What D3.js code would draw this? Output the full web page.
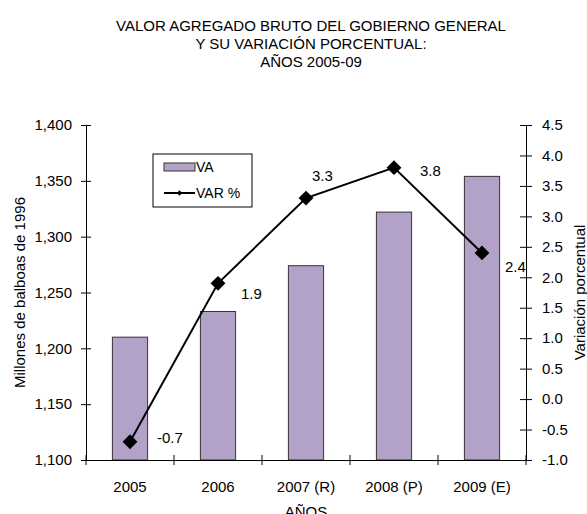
<!DOCTYPE html>
<html><head><meta charset="utf-8">
<script src="https://cdn.jsdelivr.net/npm/d3@7"></script>
<style>
body{margin:0;background:#fff;}
text{font-family:"Liberation Sans",Arial,sans-serif;fill:#000;}
</style></head>
<body><svg id="c" width="587" height="514"></svg>
<script>
const categories = ["2005","2006","2007 (R)","2008 (P)","2009 (E)"];
const vaValues = [1210, 1233, 1274, 1322, 1354];
const varValues = [-0.7, 1.9, 3.3, 3.8, 2.4];
const leftTicks = [1100,1150,1200,1250,1300,1350,1400];
const rightTicks = [-1.0,-0.5,0.0,0.5,1.0,1.5,2.0,2.5,3.0,3.5,4.0,4.5];
const titleLines = ["VALOR AGREGADO BRUTO DEL GOBIERNO GENERAL","Y SU VARIACIÓN PORCENTUAL:","AÑOS 2005-09"];
// label placement offsets (layout only)
const labelOffsets = [[27,-4],[23,11],[6,-22],[26,3],[23,14]];

const FONT = "Liberation Sans, Arial, sans-serif";
const fmt1 = v => d3.format(".1f")(v).replace("\u2212","-");

const svg = d3.select("#c");
const m = {l:86, r:526, t:125, b:460};
const x = d3.scaleBand().domain(categories).range([m.l,m.r]).paddingInner(0).paddingOuter(0);
const yL = d3.scaleLinear().domain([1100,1400]).range([m.b,m.t]);
const yR = d3.scaleLinear().domain([-1,4.5]).range([m.b,m.t]);

// title
svg.append("g").selectAll("text").data(titleLines).join("text")
  .attr("x",311).attr("y",(d,i)=>31+i*18).attr("text-anchor","middle")
  .attr("font-size",15).text(d=>d);

// bars
const bw = x.bandwidth()*0.4;
svg.append("g").selectAll("rect").data(vaValues).join("rect")
  .attr("x",(d,i)=>x(categories[i])+x.bandwidth()/2-bw/2)
  .attr("width",bw)
  .attr("y",d=>yL(d)).attr("height",d=>m.b-yL(d))
  .attr("fill","#b3a2c8").attr("stroke","#333").attr("stroke-width",1);

// axes
const axL = d3.axisLeft(yL).tickValues(leftTicks).tickFormat(d3.format(",")).tickSizeInner(5).tickSizeOuter(0);
const gL = svg.append("g").attr("transform",`translate(${m.l},0)`).call(axL);
gL.selectAll(".tick line").attr("x1",5).attr("x2",-5);
gL.selectAll(".tick text").attr("x",-14).attr("font-size",15).attr("font-family",FONT);
gL.select(".domain").attr("stroke","#000");

const axR = d3.axisRight(yR).tickValues(rightTicks).tickFormat(fmt1).tickSizeInner(6).tickSizeOuter(0);
const gR = svg.append("g").attr("transform",`translate(${m.r},0)`).call(axR);
gR.selectAll(".tick line").attr("x1",-6).attr("x2",6);
gR.selectAll(".tick text").attr("x",16).attr("font-size",15).attr("font-family",FONT);
gR.select(".domain").attr("stroke","#000");

const axB = d3.axisBottom(x).tickSize(0);
const gB = svg.append("g").attr("transform",`translate(0,${m.b})`).call(axB);
gB.select(".domain").attr("stroke","#000");
gB.selectAll(".tick text").attr("y",32).attr("dy",0).attr("font-size",15).attr("font-family",FONT);
// category separators
const seps = categories.map(c=>x(c)).concat([m.r]);
svg.append("g").selectAll("line").data(seps).join("line")
  .attr("x1",d=>d).attr("x2",d=>d).attr("y1",m.b-5).attr("y2",m.b+5).attr("stroke","#000");

// axis titles
svg.append("text").attr("transform",`translate(25,${(m.t+m.b)/2}) rotate(-90)`)
  .attr("text-anchor","middle").attr("font-size",15).text("Millones de balboas de 1996");
svg.append("text").attr("transform",`translate(585,${(m.t+m.b)/2}) rotate(-90)`)
  .attr("text-anchor","middle").attr("font-size",15).text("Variación porcentual");
svg.append("text").attr("x",306).attr("y",517).attr("text-anchor","middle").attr("font-size",15).text("AÑOS");

// line
const cx = (i)=>x(categories[i])+x.bandwidth()/2;
const line = d3.line().x((d,i)=>cx(i)).y(d=>yR(d));
svg.append("path").datum(varValues).attr("d",line).attr("fill","none").attr("stroke","#000").attr("stroke-width",2);
svg.append("g").selectAll("path").data(varValues).join("path")
  .attr("d",d3.symbol(d3.symbolSquare,110))
  .attr("transform",(d,i)=>`translate(${cx(i)},${yR(d)}) rotate(45)`)
  .attr("fill","#000");
svg.append("g").selectAll("text").data(varValues).join("text")
  .attr("x",(d,i)=>cx(i)+labelOffsets[i][0])
  .attr("y",(d,i)=>yR(d)+labelOffsets[i][1]+5)
  .attr("font-size",15).text(d=>fmt1(d));

// legend
const lg = svg.append("g");
lg.append("rect").attr("x",153).attr("y",154).attr("width",99).attr("height",53).attr("fill","#fff").attr("stroke","#000");
lg.append("rect").attr("x",164).attr("y",163).attr("width",31).attr("height",8).attr("fill","#b3a2c8").attr("stroke","#333");
lg.append("text").attr("x",196).attr("y",172).attr("font-size",14).text("VA");
lg.append("line").attr("x1",164).attr("x2",195).attr("y1",193).attr("y2",193).attr("stroke","#000").attr("stroke-width",2);
lg.append("path").attr("d",d3.symbol(d3.symbolSquare,14)).attr("transform","translate(179.5,193) rotate(45)").attr("fill","#000");
lg.append("text").attr("x",196).attr("y",198).attr("font-size",14).text("VAR %");
</script></body></html>
